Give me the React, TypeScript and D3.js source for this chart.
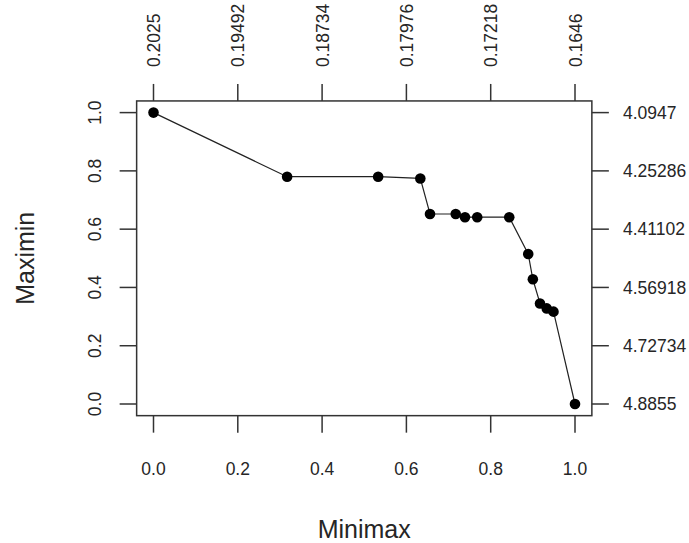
import React from "react";
import * as d3 from "d3";

const minimax = [0, 0.317, 0.533, 0.633, 0.656, 0.717, 0.739, 0.768, 0.844, 0.889, 0.9, 0.917, 0.933, 0.949, 1];
const maximin = [1, 0.78, 0.78, 0.774, 0.652, 0.652, 0.641, 0.641, 0.641, 0.515, 0.428, 0.345, 0.328, 0.317, 0];
const xTicks = [0, 0.2, 0.4, 0.6, 0.8, 1.0];
const yTicks = [0, 0.2, 0.4, 0.6, 0.8, 1.0];
const topLabels = ["0.2025", "0.19492", "0.18734", "0.17976", "0.17218", "0.1646"];
const rightLabels = ["4.8855", "4.72734", "4.56918", "4.41102", "4.25286", "4.0947"];

const W = 689;
const H = 543;
const FONT = "'Liberation Sans', Arial, sans-serif";
const TXT = "#262626";

export default function App() {
  const x = d3.scaleLinear().domain([0, 1]).range([153.5, 575]);
  const y = d3.scaleLinear().domain([0, 1]).range([404, 112.6]);
  const left = x(-0.04), right = x(1.04), top = y(1.04), bottom = y(-0.04);
  const pts = minimax.map((v, i) => [v, maximin[i]] as [number, number]);
  const line = d3.line<[number, number]>().x(d => x(d[0])).y(d => y(d[1]));
  const tickLen = 17;
  const fs = 17.5;

  return (
    <svg width={W} height={H} style={{ position: "absolute", left: 0, top: 0, background: "#fff" }} fontFamily={FONT}>
      <rect x={0} y={0} width={W} height={H} fill="#fff" />
      <rect x={left} y={top} width={right - left} height={bottom - top} fill="none" stroke="#333" strokeWidth={1.5} />
      {xTicks.map((t, i) => (
        <g key={"b" + i}>
          <line x1={x(t)} x2={x(t)} y1={bottom} y2={bottom + tickLen} stroke="#333" strokeWidth={1.5} />
          <text x={x(t)} y={475} fontSize={fs} fill={TXT} textAnchor="middle">{t.toFixed(1)}</text>
        </g>
      ))}
      {xTicks.map((t, i) => (
        <g key={"t" + i}>
          <line x1={x(t)} x2={x(t)} y1={top} y2={top - tickLen} stroke="#333" strokeWidth={1.5} />
          <text transform={`translate(${x(t) + 6.5},67) rotate(-90)`} fontSize={fs} fill={TXT} textAnchor="start">{topLabels[i]}</text>
        </g>
      ))}
      {yTicks.map((t, i) => (
        <g key={"l" + i}>
          <line x1={left} x2={left - tickLen} y1={y(t)} y2={y(t)} stroke="#333" strokeWidth={1.5} />
          <text transform={`translate(100.5,${y(t)}) rotate(-90)`} fontSize={fs} fill={TXT} textAnchor="middle">{t.toFixed(1)}</text>
        </g>
      ))}
      {yTicks.map((t, i) => (
        <g key={"r" + i}>
          <line x1={right} x2={right + tickLen} y1={y(t)} y2={y(t)} stroke="#333" strokeWidth={1.5} />
          <text x={623} y={y(t)} dy="0.35em" fontSize={fs} fill={TXT} textAnchor="start">{rightLabels[i]}</text>
        </g>
      ))}
      <text x={(left + right) / 2} y={538} fontSize={25} fill={TXT} textAnchor="middle">Minimax</text>
      <text transform={`translate(34,${(top + bottom) / 2}) rotate(-90)`} fontSize={25} fill={TXT} textAnchor="middle">Maximin</text>
      <path d={line(pts) || ""} fill="none" stroke="#222" strokeWidth={1.2} />
      {pts.map((d, i) => (
        <circle key={"p" + i} cx={x(d[0])} cy={y(d[1])} r={5.3} fill="#000" />
      ))}
    </svg>
  );
}
